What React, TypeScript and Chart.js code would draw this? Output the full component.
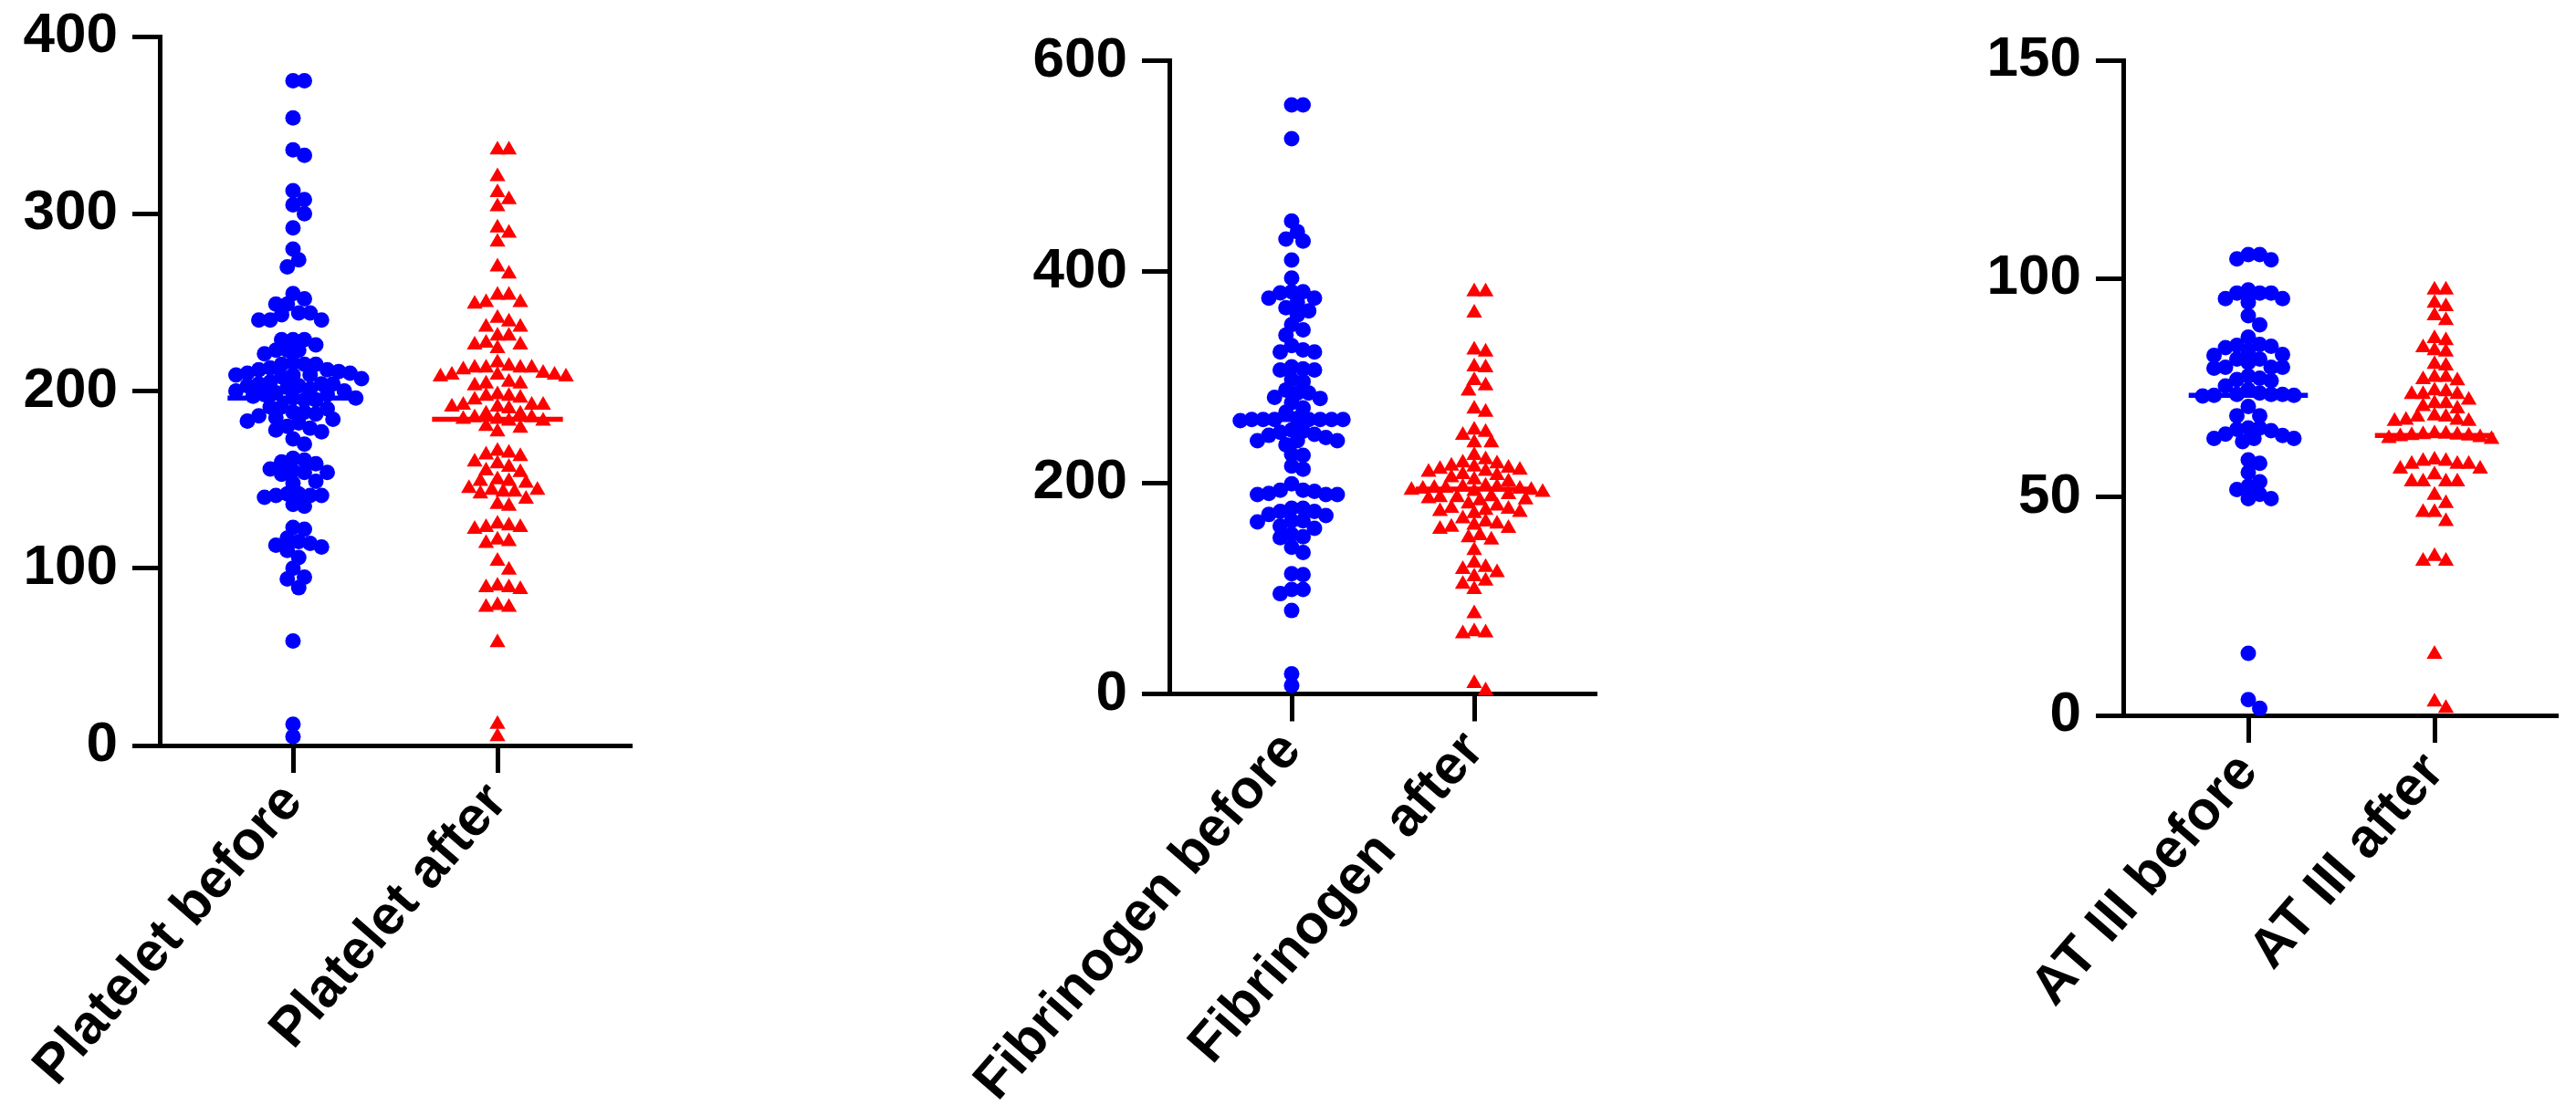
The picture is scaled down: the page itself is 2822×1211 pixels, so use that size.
import React, { useEffect, useRef } from "react";
import { Chart, registerables } from "chart.js";

Chart.register(...registerables);

// ---------------- DATA ----------------
const plateletCategories = ["Platelet before", "Platelet after"];
const plateletTicks = [0, 100, 200, 300, 400];
const plateletMedians = [196, 184];
const plateletBefore = [
  375, 375, 354, 336, 333, 313, 308, 305, 300, 292,
  280, 274, 270, 255, 252, 249, 249, 244, 244, 243,
  240, 240, 240, 229, 229, 229, 226, 223, 223, 223,
  221, 216, 215, 215, 215, 213, 212, 212, 211, 210,
  210, 209, 209, 209, 208, 207, 205, 204, 204, 204,
  203, 203, 202, 201, 200, 200, 199, 198, 198, 197,
  196, 196, 195, 195, 191, 191, 190, 188, 188, 187,
  186, 185, 184, 183, 182, 180, 179, 178, 177, 173,
  170, 162, 161, 160, 159, 156, 155, 154, 154, 153,
  149, 148, 142, 142, 141, 141, 141, 140, 136, 135,
  123, 122, 117, 115, 114, 113, 112, 110, 106, 100,
  95, 94, 89, 59, 12, 5,
];
const plateletAfter = [
  336, 336, 321, 312, 308, 304, 292, 289, 284, 270,
  266, 254, 254, 250, 250, 249, 241, 239, 236, 236,
  231, 231, 227, 226, 226, 224, 216, 214, 213, 213,
  213, 213, 212, 210, 209, 209, 209, 208, 208, 205,
  204, 204, 203, 198, 197, 197, 196, 195, 192, 192,
  192, 191, 191, 190, 187, 187, 185, 185, 184, 184,
  183, 183, 180, 179, 177, 166, 165, 164, 163, 160,
  159, 157, 155, 154, 150, 149, 149, 148, 145, 144,
  144, 143, 143, 142, 139, 136, 135, 125, 124, 123,
  123, 122, 116, 115, 114, 104, 99, 90, 89, 89,
  88, 79, 78, 78, 58, 12, 5,
];

const fibrinogenCategories = ["Fibrinogen before", "Fibrinogen after"];
const fibrinogenTicks = [0, 200, 400, 600];
const fibrinogenMedians = [260, 194];
const fibrinogenBefore = [
  558, 558, 526, 448, 438, 431, 429, 411, 394, 381,
  380, 381, 375, 375, 371, 366, 363, 359, 350, 345,
  340, 330, 326, 324, 324, 310, 308, 307, 307, 298,
  296, 288, 285, 285, 281, 280, 276, 271, 267, 261,
  260, 260, 260, 260, 260, 260, 260, 259, 250, 249,
  248, 246, 245, 243, 240, 240, 240, 236, 227, 226,
  216, 213, 199, 193, 193, 192, 190, 189, 189, 189,
  176, 176, 173, 173, 170, 169, 164, 164, 163, 159,
  157, 151, 149, 148, 139, 134, 114, 113, 99, 99,
  95, 79, 19, 8,
];
const fibrinogenAfter = [
  381, 381, 361, 326, 324, 310, 309, 297, 292, 287,
  270, 267, 250, 248, 245, 238, 238, 226, 222, 219,
  218, 216, 215, 214, 213, 212, 211, 210, 208, 207,
  205, 203, 201, 197, 196, 196, 195, 195, 194, 194,
  193, 193, 192, 191, 189, 187, 186, 186, 185, 184,
  183, 180, 178, 176, 175, 174, 173, 172, 171, 166,
  163, 161, 160, 158, 157, 156, 150, 148, 146, 136,
  124, 120, 118, 115, 111, 107, 104, 99, 76, 59,
  58, 57, 10, 3,
];

const at3Categories = ["AT III before", "AT III after"];
const at3Ticks = [0, 50, 100, 150];
const at3Medians = [73.3, 64.1];
const at3Before = [
  105.5, 105.5, 104.5, 104.3, 97.4, 96.7, 96.7, 96.7, 95.4, 95.4,
  94.6, 91.5, 89.4, 86.6, 84.9, 84.7, 84.5, 84.2, 83.5, 82.6,
  82.4, 81.6, 81.6, 80.8, 79.7, 79.7, 79.7, 79.5, 77.7, 77.2,
  76.9, 76.6, 75.4, 74.6, 73.8, 73.5, 73.5, 73.5, 73.3, 73.3,
  73.1, 70.7, 68.6, 68.6, 65.8, 65.8, 65.5, 65.2, 64.4, 64.1,
  63.4, 63.4, 63.4, 62.7, 58.5, 57.7, 55.6, 53.5, 52.5, 51.7,
  50.6, 49.6, 49.6, 14.2, 3.6, 1.6,
];
const at3After = [
  97.4, 97.4, 94.4, 93.6, 91.5, 90.4, 86.3, 85.8, 84.2, 83.5,
  83.2, 80.4, 80, 77.4, 77.4, 76.9, 76.6, 74.3, 74.1, 73.5,
  73.5, 73.5, 72.2, 71.4, 71.4, 70.7, 70.2, 68.6, 68.3, 68.3,
  67.6, 67.6, 67.3, 67.3, 64.5, 64.4, 64.3, 64.2, 64.1, 64.0,
  63.8, 63.6, 63.4, 63.2, 58.5, 58.2, 58.2, 57.5, 57.5, 57.5,
  56.4, 56.4, 55.1, 53.5, 53.5, 53.5, 53.5, 50.4, 48.5, 46.5,
  46.5, 44.4, 36.4, 35.3, 35.3, 14, 3.1, 1.6,
];

// ---------------- LAYOUT ----------------
const H = 1211;
const FONT = "'Liberation Sans', Arial, Helvetica, sans-serif";
const BLUE = "#0000ff";
const RED = "#ff0000";

type PanelCfg = {
  categories: string[];
  ticks: number[];
  medians: number[];
  before: number[];
  after: number[];
  yMax: number;
  canvasLeft: number;
  canvasW: number;
  axisX: number;
  endX: number;
  tick0: number;
  tick1: number;
  top: number;
  bottom: number;
};

const panels: PanelCfg[] = [
  {
    categories: plateletCategories, ticks: plateletTicks, medians: plateletMedians,
    before: plateletBefore, after: plateletAfter, yMax: 400,
    canvasLeft: 0, canvasW: 760, axisX: 175, endX: 690, tick0: 321, tick1: 545, top: 40, bottom: 817,
  },
  {
    categories: fibrinogenCategories, ticks: fibrinogenTicks, medians: fibrinogenMedians,
    before: fibrinogenBefore, after: fibrinogenAfter, yMax: 600,
    canvasLeft: 900, canvasW: 900, axisX: 1281, endX: 1747, tick0: 1415, tick1: 1615, top: 66.5, bottom: 760.5,
  },
  {
    categories: at3Categories, ticks: at3Ticks, medians: at3Medians,
    before: at3Before, after: at3After, yMax: 150,
    canvasLeft: 1950, canvasW: 872, axisX: 2326, endX: 2800, tick0: 2463, tick1: 2667, top: 66, bottom: 784,
  },
];

// beeswarm layout: returns horizontal pixel offsets
function swarm(vals: number[], pxPerVal: number, diam: number): number[] {
  const order = vals.map((_, i) => i).sort((a, b) => vals[b] - vals[a]);
  const placed: { x: number; y: number }[] = [];
  const out = new Array(vals.length).fill(0);
  for (const i of order) {
    const y = vals[i] * pxPerVal;
    let best = 0;
    for (let k = 0; k < 400; k++) {
      const cand = k === 0 ? 0 : (k % 2 ? 1 : -1) * Math.ceil(k / 2) * (diam / 2);
      let ok = true;
      for (const p of placed) {
        if (Math.hypot(p.x - cand, p.y - y) < diam * 0.97) { ok = false; break; }
      }
      if (ok) { best = cand; break; }
    }
    placed.push({ x: best, y });
    out[i] = best;
  }
  return out;
}

function Panel({ cfg }: { cfg: PanelCfg }) {
  const ref = useRef<HTMLCanvasElement | null>(null);
  useEffect(() => {
    const c = cfg;
    const pxPerCat = c.tick1 - c.tick0;
    const xMin = -(c.tick0 - c.axisX) / pxPerCat;
    const xMax = 1 + (c.endX - c.tick1) / pxPerCat;
    const pxPerVal = (c.bottom - c.top) / c.yMax;
    const mk = (vals: number[], ci: number) => {
      const offs = swarm(vals, pxPerVal, 12.5);
      return vals.map((v, i) => ({ x: ci + offs[i] / pxPerCat, y: v }));
    };
    const half = 0.32;
    const chart = new Chart(ref.current as HTMLCanvasElement, {
      type: "scatter",
      data: {
        datasets: [
          {
            data: mk(c.before, 0), pointStyle: "circle", pointRadius: 8.5,
            pointBackgroundColor: BLUE, pointBorderColor: BLUE, pointBorderWidth: 0,
            order: 2, clip: false as any,
          },
          {
            data: mk(c.after, 1), pointStyle: "triangle", pointRadius: 10,
            pointBackgroundColor: RED, pointBorderColor: RED, pointBorderWidth: 0,
            order: 2, clip: false as any,
          },
          {
            data: [{ x: -half, y: c.medians[0] }, { x: half, y: c.medians[0] }],
            showLine: true, borderColor: BLUE, borderWidth: 5.5, pointRadius: 0, order: 1, clip: false as any,
          },
          {
            data: [{ x: 1 - half, y: c.medians[1] }, { x: 1 + half, y: c.medians[1] }],
            showLine: true, borderColor: RED, borderWidth: 5.5, pointRadius: 0, order: 1, clip: false as any,
          },
        ],
      },
      options: {
        responsive: false,
        animation: false,
        devicePixelRatio: 1,
        events: [],
        layout: { padding: { left: 0, right: c.canvasW - (c.endX - c.canvasLeft), top: c.top, bottom: 0 } },
        plugins: { legend: { display: false }, tooltip: { enabled: false } },
        scales: {
          x: {
            type: "linear",
            min: xMin,
            max: xMax,
            afterBuildTicks: (s: any) => { s.ticks = [{ value: 0 }, { value: 1 }]; },
            afterFit: (s: any) => {
              s.height = H - c.bottom; s.paddingLeft = 0; s.paddingRight = 0; s.paddingTop = 0; s.paddingBottom = 0;
            },
            ticks: {
              callback: (v: any) => c.categories[v] ?? "",
              minRotation: 49, maxRotation: 49, autoSkip: false,
              color: "#000", font: { family: FONT, size: 60, weight: "bold" }, padding: -2,
            },
            grid: { drawOnChartArea: false, drawTicks: true, tickLength: 30, lineWidth: 5, color: "#000" },
            border: { display: true, color: "#000", width: 5 },
          },
          y: {
            type: "linear",
            min: 0,
            max: c.yMax,
            afterBuildTicks: (s: any) => { s.ticks = c.ticks.map((v) => ({ value: v })); },
            afterFit: (s: any) => {
              s.width = c.axisX - c.canvasLeft; s.paddingTop = 0; s.paddingBottom = 0; s.paddingLeft = 0; s.paddingRight = 0;
            },
            ticks: { color: "#000", font: { family: FONT, size: 62, weight: "bold" }, padding: 16 },
            grid: { drawOnChartArea: false, drawTicks: true, tickLength: 30, lineWidth: 5, color: "#000" },
            border: { display: true, color: "#000", width: 5 },
          },
        },
      },
    } as any);
    return () => chart.destroy();
  }, [cfg]);
  return (
    <canvas
      ref={ref}
      width={cfg.canvasW}
      height={H}
      style={{ position: "absolute", left: cfg.canvasLeft, top: 0, width: cfg.canvasW, height: H }}
    />
  );
}

export default function App() {
  useEffect(() => {
    document.body.style.margin = "0";
  }, []);
  return (
    <div style={{ position: "absolute", left: 0, top: 0, width: 2822, height: H, background: "#fff", overflow: "hidden" }}>
      {panels.map((p, i) => (
        <Panel key={i} cfg={p} />
      ))}
    </div>
  );
}
